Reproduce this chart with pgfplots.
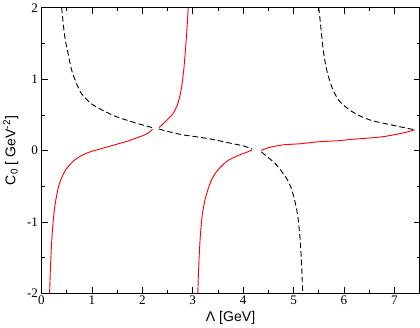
\documentclass[border=0pt]{standalone}
\usepackage{fontspec}
\setmainfont{Liberation Serif}
\newfontfamily\lsans{Liberation Sans}
\usepackage{pgfplots}
\pgfplotsset{compat=1.18}

\begin{document}
\begin{tikzpicture}[x=1bp,y=1bp]
  \begin{axis}[
    scale only axis,
    width=374.5bp, height=283bp,
    xmin=0, xmax=7.5, ymin=-2, ymax=2,
    xtick={0,1,...,7}, ytick={-2,-1,0,1,2},
    yticklabels={-2,-1,0,1,2},
    minor x tick num=1, minor y tick num=1,
    tick align=inside, tick pos=both,
    major tick length=6bp, minor tick length=3bp,
    tick label style={font=\fontsize{13}{13}\selectfont},
    /pgf/number format/assume math mode=true,
    xticklabel style={yshift=1bp},
    xlabel={\lsans Λ [GeV]},
    ylabel={\lsans C\textsubscript{0} [ GeV\textsuperscript{-2}]},
    label style={font=\fontsize{14}{14}\selectfont},
    xlabel style={at={(axis description cs:0.5,-0.085)}, anchor=center},
    ylabel style={at={(axis description cs:-0.081,0.5)}, anchor=center},
    axis line style={line width=0.8bp},
    every tick/.style={line width=0.6bp, black},
  ]
  % red solid branches
  \addplot[red, line width=0.9bp, smooth] coordinates {
    (0.16,-2) (0.18,-1.6) (0.20,-1.3) (0.23,-1.0) (0.27,-0.75) (0.34,-0.5)
    (0.42,-0.35) (0.5,-0.25) (0.6,-0.17) (0.7,-0.11) (0.85,-0.05) (1.0,-0.01)
    (1.13,0.015) (1.3,0.05) (1.5,0.09) (1.7,0.13) (1.9,0.18) (2.05,0.22)
    (2.15,0.26) (2.2,0.30)
  };
  \addplot[red, line width=0.9bp, smooth] coordinates {
    (2.33,0.32) (2.45,0.40) (2.6,0.51) (2.7,0.65) (2.77,0.85) (2.82,1.12)
    (2.86,1.45) (2.89,1.75) (2.91,2.0)
  };
  \addplot[red, line width=0.9bp, smooth] coordinates {
    (3.10,-2) (3.12,-1.6) (3.15,-1.2) (3.19,-0.9) (3.25,-0.67) (3.36,-0.43)
    (3.5,-0.27) (3.7,-0.14) (3.9,-0.07) (4.05,-0.03) (4.18,0.01)
  };
  \addplot[red, line width=0.9bp, smooth] coordinates {
    (4.36,0.0) (4.5,0.04) (4.8,0.08) (5.13,0.095) (5.46,0.12) (5.93,0.14)
    (6.13,0.155) (6.73,0.19) (7.13,0.24) (7.36,0.28) (7.40,0.29)
  };
  % black dashed branches
  \addplot[black, line width=0.9bp, dash pattern=on 5.5bp off 3bp, smooth] coordinates {
    (0.40,2.0) (0.46,1.6) (0.53,1.35) (0.6,1.12) (0.7,0.93) (0.8,0.79)
    (1.0,0.65) (1.25,0.55) (1.5,0.47) (1.85,0.39) (2.05,0.35) (2.2,0.32)
  };
  \addplot[black, line width=0.9bp, dash pattern=on 5.5bp off 3bp, smooth] coordinates {
    (2.33,0.30) (2.55,0.26) (2.8,0.22) (3.1,0.19) (3.4,0.155) (3.8,0.095)
    (4.0,0.065) (4.18,0.02)
  };
  \addplot[black, line width=0.9bp, dash pattern=on 5.5bp off 3bp, smooth] coordinates {
    (4.36,-0.02) (4.5,-0.1) (4.66,-0.2) (4.86,-0.39) (4.95,-0.52) (5.03,-0.72)
    (5.09,-0.95) (5.13,-1.25) (5.16,-1.6) (5.18,-2)
  };
  \addplot[black, line width=0.9bp, dash pattern=on 5.5bp off 3bp, smooth] coordinates {
    (5.5,2.0) (5.53,1.8) (5.56,1.59) (5.6,1.35) (5.66,1.12) (5.73,0.95)
    (5.8,0.82) (5.9,0.7) (6.0,0.63) (6.15,0.55) (6.33,0.48) (6.55,0.42)
    (6.8,0.38) (7.13,0.33) (7.40,0.29)
  };
  \end{axis}
\end{tikzpicture}
\end{document}
